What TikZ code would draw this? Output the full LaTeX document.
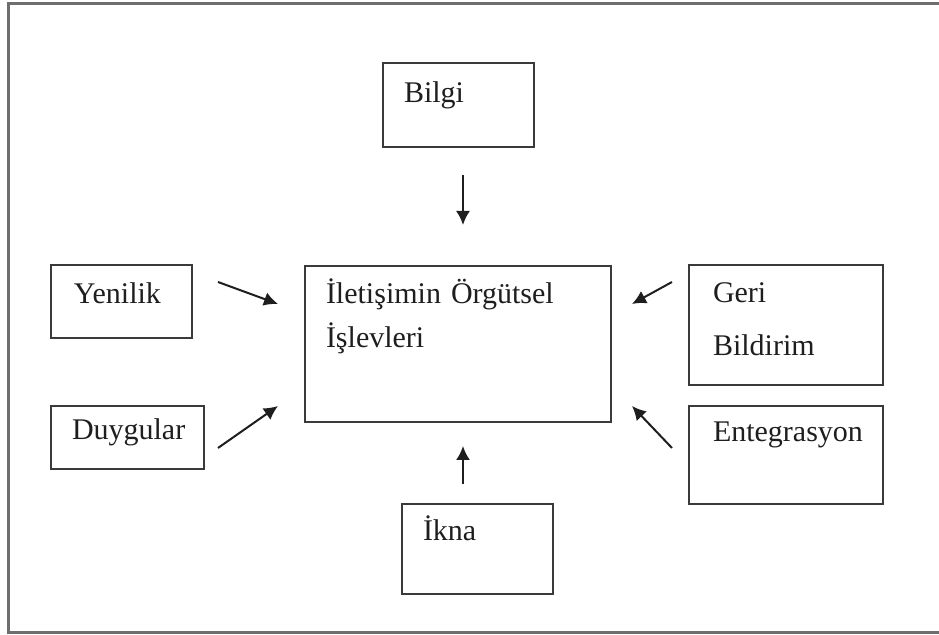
\documentclass[tikz,border=0pt]{standalone}
\usepackage{fontspec}
\setmainfont{Liberation Serif}
\usetikzlibrary{arrows.meta}
\definecolor{framegray}{HTML}{6E6E6E}
\definecolor{boxgray}{HTML}{3A3A3A}
\definecolor{inkc}{HTML}{1E1E1E}
\begin{document}
\begin{tikzpicture}[x=0.5pt,y=-0.5pt,
  box/.style={draw=boxgray, line width=1pt, anchor=north west, inner ysep=0pt,
    align=left, text=inkc, font=\fontsize{15pt}{18pt}\selectfont,
    execute at begin node={\hyphenpenalty=10000}},
  arr/.style={-{Latex[length=7pt,width=7pt]}, line width=1pt, draw=inkc}]
\useasboundingbox (0,0) rectangle (939,635);
\draw[framegray, line width=1.5pt] (945,4) -- (8,4) -- (8,633) -- (945,633);

\node[box, inner xsep=10.5pt, text width=54.5pt, text height=20pt, text depth=22pt] (bilgi) at (382,62) {Bilgi};
\node[box, inner xsep=11.5pt, text width=47.5pt, text height=19.5pt, text depth=17pt] (yenilik) at (50,264) {Yenilik};
\node[box, inner xsep=10.5pt, text width=55.5pt, text height=17pt, text depth=14.5pt] (duygular) at (50,405) {Duygular};
\node[box, inner xsep=10.5pt, text width=132pt, text height=19pt, text depth=59pt] (merkez) at (304,265) {İletişimin Örgütsel\\[4pt]İşlevleri};
\node[box, inner xsep=12pt, text width=73pt, text height=19pt, text depth=41pt] (geri) at (688,264) {Geri\\[8.5pt]Bildirim};
\node[box, inner xsep=12pt, text width=73pt, text height=18pt, text depth=31pt] (entegrasyon) at (688,405) {Entegrasyon};
\node[box, inner xsep=10.5pt, text width=54.5pt, text height=18.5pt, text depth=26.5pt] (ikna) at (401,503) {İkna};

\coordinate (bilgiA) at (463,175); \coordinate (bilgiB) at (463,225);
\coordinate (yenA) at (218,282);   \coordinate (yenB) at (278,304);
\coordinate (duyA) at (218,448);   \coordinate (duyB) at (278,406);
\coordinate (geriA) at (672,282);  \coordinate (geriB) at (632,304);
\coordinate (entA) at (672,448);   \coordinate (entB) at (632,406);
\coordinate (iknaA) at (463,484);  \coordinate (iknaB) at (463,446);

\draw[arr] (bilgiA) -- (bilgiB);
\draw[arr] (yenA) -- (yenB);
\draw[arr] (duyA) -- (duyB);
\draw[arr] (geriA) -- (geriB);
\draw[arr] (entA) -- (entB);
\draw[arr] (iknaA) -- (iknaB);
\end{tikzpicture}
\end{document}
